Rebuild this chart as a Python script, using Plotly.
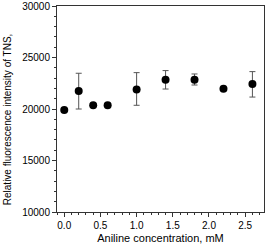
import plotly.graph_objects as go

conc_mM = [0.0, 0.2, 0.4, 0.6, 1.0, 1.4, 1.8, 2.2, 2.6]
intensity = [19900, 21750, 20360, 20360, 21900, 22850, 22850, 21970, 22430]
err_plus = [0, 1720, 0, 0, 1630, 880, 550, 0, 1200]
err_minus = [0, 1750, 0, 0, 1540, 910, 520, 0, 1270]

x_title = "Aniline concentration, mM"
y_title = "Relative fluorescence intensity of TNS,"

FONT = "Liberation Sans, Arial, sans-serif"

fig = go.Figure()
fig.add_trace(go.Scatter(
    x=conc_mM, y=intensity, mode="markers",
    marker=dict(color="black", size=8, symbol="circle"),
    error_y=dict(type="data", symmetric=False, array=err_plus, arrayminus=err_minus,
                 color="#555555", thickness=1, width=3),
    showlegend=False,
))

fig.update_layout(
    width=266, height=248,
    margin=dict(l=57, r=2, t=6, b=36, autoexpand=False),
    paper_bgcolor="white", plot_bgcolor="white",
    font=dict(family=FONT, size=10, color="black"),
    xaxis=dict(
        range=[-0.1, 2.76], tickmode="linear", tick0=0, dtick=0.5, tickformat=".1f",
        showline=True, linecolor="#333333", linewidth=1, mirror=True,
        ticks="outside", ticklen=4, tickcolor="#333333", showgrid=False, zeroline=False,
        minor=dict(dtick=0.1, tick0=0, ticks="outside", ticklen=2, tickcolor="#333333"),
        title=dict(text=x_title, font=dict(size=11, family=FONT), standoff=4),
        tickfont=dict(size=10),
    ),
    yaxis=dict(
        range=[10000, 30000], tickmode="linear", tick0=10000, dtick=5000, tickformat="d",
        showline=True, linecolor="#333333", linewidth=1, mirror=True,
        ticks="outside", ticklen=4, tickcolor="#333333", showgrid=False, zeroline=False,
        minor=dict(dtick=1000, ticks="outside", ticklen=2, tickcolor="#333333"),
        tickfont=dict(size=10),
    ),
    annotations=[dict(
        text=y_title, textangle=-90, xref="paper", yref="paper",
        x=-0.242, y=0.45, xanchor="center", yanchor="middle", showarrow=False,
        font=dict(size=10, family=FONT, color="black"),
    )],
)

fig.write_html(
    "out.html",
    config={"displayModeBar": False},
    post_script="document.body.style.margin='0';document.body.style.overflow='hidden';",
)
